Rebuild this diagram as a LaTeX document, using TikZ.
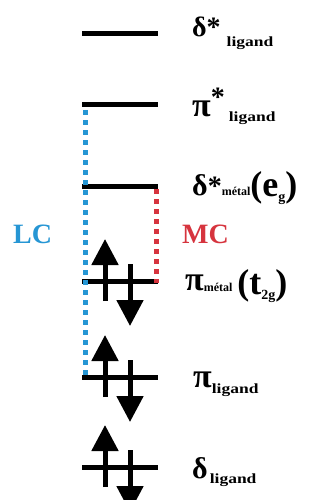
\documentclass[tikz,border=0pt]{standalone}
\usepackage{fontspec}
\setmainfont{Liberation Serif}
\usetikzlibrary{arrows.meta}
\definecolor{lcblue}{RGB}{38,150,212}
\definecolor{mcred}{RGB}{214,52,62}
% symbol, starred superscript and subscript helpers for the level labels
\newcommand{\sym}[2]{{\fontsize{#1}{#1}\selectfont #2}}
\newcommand{\starsup}[1]{\raisebox{#1}{\fontsize{28}{28}\selectfont *}}
\newcommand{\ligsub}[1]{\raisebox{-#1}{\scalebox{1.25}[1]{\fontsize{14}{14}\selectfont ligand}}}
\newcommand{\metsub}[1]{\raisebox{-#1}{\fontsize{12}{12}\selectfont métal}}
\newcommand{\smallsub}[2]{\raisebox{-#1}{\fontsize{14}{14}\selectfont #2}}
\begin{document}
\begin{tikzpicture}[x=1pt,y=-1pt,
  level/.style={line width=5pt},
  spin/.style={line width=5pt,-{Triangle[width=26pt,length=26pt]}},
  transition/.style={line width=5pt,dash pattern=on 5pt off 5pt},
  lbl/.style={anchor=base west,inner sep=0pt,font=\bfseries}]
\useasboundingbox (0,0) rectangle (326,500);
\clip (0,0) rectangle (326,500);

% orbital levels
\foreach \n/\y in {dl/34, pl/105, dm/186, pm/281, pg/377, dg/467}{
  \coordinate (\n-w) at (82,\y);
  \coordinate (\n-e) at (158,\y);
  \draw[level] (\n-w) -- (\n-e);
}

% LC and MC transitions
\coordinate (lc-top) at (85,110);
\coordinate (lc-bot) at (85,379);
\coordinate (mc-top) at (156,189);
\coordinate (mc-bot) at (156,283);
\draw[transition,lcblue] (lc-top) -- (lc-bot);
\draw[transition,mcred] (mc-top) -- (mc-bot);

% paired electrons
\foreach \n/\y in {pm/281, pg/377, dg/467}{
  \coordinate (\n-ua) at (105,\y+20);
  \coordinate (\n-ub) at (105,\y-42);
  \coordinate (\n-da) at (130,\y-17);
  \coordinate (\n-db) at (130,\y+45);
  \draw[spin] (\n-ua) -- (\n-ub);
  \draw[spin] (\n-da) -- (\n-db);
}

% level labels
\node[lbl] (tdl) at (192,37) {\sym{28}{δ}\starsup{0pt}\hspace{6pt}\ligsub{10pt}};
\node[lbl] (tpl) at (192,117) {\sym{34}{π}\starsup{10pt}\hspace{4pt}\ligsub{5pt}};
\node[lbl] (tdm) at (192,195) {\sym{30}{δ}\starsup{0pt}\metsub{0pt}\raisebox{-1pt}{\sym{36}{(e}\smallsub{5pt}{g}\sym{36}{)}}};
\node[lbl] (tpm) at (185,290) {\sym{34}{π}\metsub{1pt}\hspace{5pt}\raisebox{-4pt}{\sym{36}{(t}\smallsub{5pt}{2g}\sym{36}{)}}};
\node[lbl] (tpg) at (193,387) {\sym{34}{π}\ligsub{6pt}};
\node[lbl] (tdg) at (192,478) {\sym{30}{δ}\hspace{2pt}\ligsub{5pt}};

% transition labels
\node[lbl,lcblue] (lc) at (13,243) {\fontsize{28}{28}\selectfont LC};
\node[lbl,mcred] (mc) at (182,243) {\fontsize{28}{28}\selectfont MC};
\end{tikzpicture}
\end{document}
